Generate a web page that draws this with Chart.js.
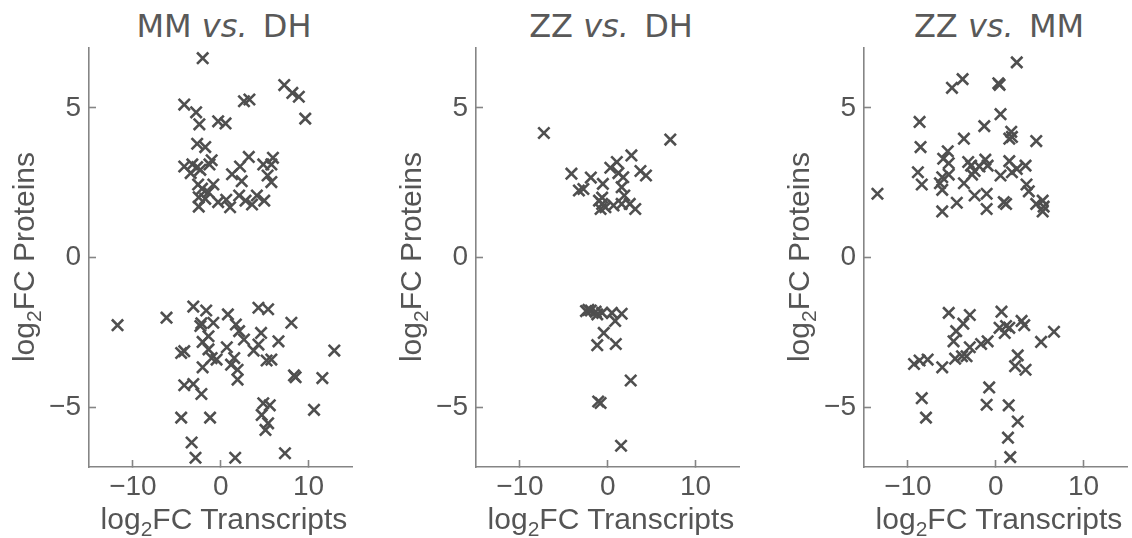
<!DOCTYPE html>
<html lang="en">
<head>
<meta charset="UTF-8">
<title>log2FC Proteins vs Transcripts</title>
<script src="https://cdn.jsdelivr.net/npm/chart.js"></script>
<style>
  body { margin: 0; background: #fff; overflow: hidden; }
  #wrap { position: relative; width: 1132px; height: 538px; overflow: hidden; }
  canvas { position: absolute; top: 0; }
  .title { position: absolute; top: 10px; width: 300px; text-align: center;
           font-family: "DejaVu Sans"; font-size: 32px; line-height: 32px; color: #595959; }
  .title i { margin-right: 5px; }
  .axt { position: absolute; width: 400px; height: 30px; text-align: center; white-space: nowrap;
         font-family: "Liberation Sans"; font-size: 30px; line-height: 30px; color: #555; }
  .axt span { font-size: 21px; position: relative; top: 7px; }
  .rot { transform: rotate(-90deg); }
</style>
</head>
<body>
<div id="wrap">
  <div class="title" style="left:74px">MM <i>vs.</i> DH</div>
  <div class="title" style="left:461px">ZZ <i>vs.</i> DH</div>
  <div class="title" style="left:849px">ZZ <i>vs.</i> MM</div>

  <canvas id="c1" width="363" height="538" style="left:0px"></canvas>
  <canvas id="c2" width="363" height="538" style="left:387px"></canvas>
  <canvas id="c3" width="363" height="538" style="left:775px"></canvas>

  <!-- axis titles (html so the subscript 2 sits like the original) -->
  <div class="axt" style="left:24px;top:504px">log<span>2</span>FC Transcripts</div>
  <div class="axt" style="left:411px;top:504px">log<span>2</span>FC Transcripts</div>
  <div class="axt" style="left:799px;top:504px">log<span>2</span>FC Transcripts</div>
  <div class="axt rot" style="left:-176px;top:242px">log<span>2</span>FC Proteins</div>
  <div class="axt rot" style="left:211px;top:242px">log<span>2</span>FC Proteins</div>
  <div class="axt rot" style="left:599px;top:242px">log<span>2</span>FC Proteins</div>
</div>

<script>
// tick values shared by all three panels
const xTicks = [-10, 0, 10];
const yTicks = [-5, 0, 5];

// MM vs. DH  (x = log2FC transcripts, y = log2FC proteins)
const mmDhX = [-2.05, -4.15, -2.8, -2.43, -0.29, 0.55, 2.65, 3.27, 7.24, 8.16, 8.9, 9.63,
  -2.68, -1.76, -4.15, -3.23, -2.68, -3.42, -2.32, -1.03, -1.28, -2.57, -2.13, -0.84, -1.39,
  -2.5, -1.76, -2.5, -0.29, 0.63, 1.07, 1.29, 2.2, 3.2, 2.39, 2.1, 2.83, 3.57, 4.12, 4.96,
  4.85, 5.95, 5.77, 5.34, 5.77,
  -11.75, -6.17, -3.12, -1.65, -2.32, -0.84, 0.82, 1.73, 4.3, 5.4, 8.05, 4.6, 6.58, 12.94,
  -4.15, -4.5, -2.06, -1.39, -1.03, -0.47, -2.06, 0.7, 1.54, 1.18, 1.92, 1.92, 2.1, 2.65,
  3.75, 4.3, 5.23, 5.77, 8.35, 8.53, 11.58, -4.15, -3.12, -2.2, -4.5, -1.21, 4.85, 5.59,
  4.67, 5.4, 5.1, 10.63, -3.31, -2.87, 1.65, 7.32, -1.39, -2.2];
const mmDhY = [6.66, 5.11, 4.85, 4.45, 4.55, 4.48, 5.22, 5.28, 5.76, 5.5, 5.37, 4.64,
  3.8, 3.69, 3.04, 3.11, 3.02, 2.82, 2.93, 3.25, 3.11, 2.44, 2.3, 2.44, 2.18,
  2.01, 1.96, 1.7, 1.85, 1.93, 1.68, 2.78, 3.04, 3.36, 2.55, 2.07, 1.9, 1.77, 2.07, 1.9,
  3.11, 3.33, 3.11, 2.74, 2.52,
  -2.26, -2.01, -1.64, -1.77, -2.29, -2.18, -1.9, -2.24, -1.68, -1.73, -2.18, -2.52, -2.8, -3.11,
  -3.13, -3.19, -2.82, -3.07, -3.36, -3.41, -3.67, -3.0, -3.36, -3.58, -3.75, -4.08, -2.46, -2.74,
  -3.11, -2.91, -3.44, -3.41, -3.94, -4.0, -4.03, -4.27, -4.23, -4.56, -5.35, -5.35, -4.87, -4.94,
  -5.26, -5.54, -5.76, -5.09, -6.18, -6.69, -6.69, -6.54, -2.63, -2.2];

// ZZ vs. DH
const zzDhX = [-7.27, 7.13, 2.7, 1.04, 0.3, 1.22, 3.73, 4.36, 1.77, -4.13, -1.92, -3.28, -2.77,
  -0.55, 1.59, 1.89, -0.63, -0.63, -0.81, -0.26, 0.66, 1.59, 2.51, 3.14, -0.99,
  -2.47, -1.92, -1.37, -1.19, -0.63, 0.48, 1.59, 0.85, -0.45, -1.19, 0.92, 2.62, -1.08, -0.81,
  1.52, -2.2];
const zzDhY = [4.16, 3.94, 3.41, 3.19, 3.0, 2.82, 2.89, 2.74, 2.68, 2.8, 2.67, 2.24, 2.29,
  2.46, 2.35, 2.07, 2.0, 1.79, 1.62, 1.68, 1.74, 1.79, 1.79, 1.62, 1.9,
  -1.79, -1.77, -1.81, -1.9, -1.85, -1.85, -1.88, -2.12, -2.52, -2.93, -2.89, -4.11, -4.81, -4.86,
  -6.29, -1.75];

// ZZ vs. MM
const zzMmX = [-13.47, -8.67, -8.56, -8.86, -8.42, -4.98, -3.77, 0.3, 0.44, 2.4, 0.55, -1.3,
  -3.62, 1.77, 1.55, 1.85, 4.62, -5.46, -5.98, -5.35, -6.09, -5.35, -6.35, -6.09, -6.09, -4.43,
  -3.13, -2.4, -1.85, -1.18, -0.92, -3.62, -2.69, -2.4, -1.03, -1.03, 0.55, 1.55, 1.85, 2.4,
  3.4, 0.92, 1.18, 3.51, 3.77, 4.62, 5.35, 5.46, 5.35, -2.8,
  -5.35, -2.95, -3.69, -4.5, -4.8, -2.95, -1.66, -0.92, -3.32, -3.84, -4.62, -6.09, -7.75,
  -8.67, -9.3, 0.66, 1.18, 1.03, 1.55, 2.95, 3.25, 5.17, 6.64, 2.51, 2.21, 3.4, -0.74, -1.03,
  1.48, 2.51, 1.4, 1.66, -8.42, -7.94, 0.44];
const zzMmY = [2.13, 4.53, 3.69, 2.85, 2.44, 5.67, 5.96, 5.82, 5.77, 6.52, 4.79, 4.39,
  3.97, 4.2, 3.97, 4.03, 3.89, 3.55, 3.3, 3.15, 2.68, 2.77, 2.48, 2.26, 1.54, 1.83,
  3.19, 2.89, 3.04, 3.27, 3.07, 2.48, 2.77, 2.07, 2.13, 1.62, 2.74, 3.22, 2.85, 2.96,
  3.07, 1.85, 1.79, 2.44, 2.21, 1.79, 1.9, 1.7, 1.54, 3.07,
  -1.85, -1.92, -2.21, -2.46, -2.8, -3.0, -2.89, -2.8, -3.3, -3.3, -3.38, -3.67, -3.41,
  -3.44, -3.56, -1.81, -2.29, -2.52, -2.35, -2.12, -2.26, -2.82, -2.48, -3.27, -3.63, -3.75, -4.34, -4.92,
  -4.94, -5.48, -6.02, -6.67, -4.7, -5.35, -2.35];

const axisGrey = '#858585';
const textGrey = '#555555';
const markGrey = '#4f4f4f';

// matplotlib style minus sign
function fmt(v) {
    return v < 0 ? '\u2212' + Math.abs(v) : String(v);
}

function makeChart(id, xs, ys) {
    let points = xs.map((x, i) => ({ x: x, y: ys[i] }));
    return new Chart(document.getElementById(id), {
        type: 'scatter',
        data: {
            datasets: [{
                data: points,
                pointStyle: 'crossRot',
                pointRadius: 8,
                pointHoverRadius: 8,
                borderColor: markGrey,
                backgroundColor: markGrey,
                borderWidth: 2.6,
                clip: false
            }]
        },
        options: {
            responsive: false,
            animation: false,
            events: [],
            layout: { padding: { top: 48, right: 3, left: 0, bottom: 0 } },
            plugins: { legend: { display: false }, tooltip: { enabled: false } },
            scales: {
                x: {
                    type: 'linear', min: -15, max: 15,
                    afterBuildTicks: s => { s.ticks = xTicks.map(v => ({ value: v })); },
                    afterFit: s => { s.height = 71; },
                    border: { display: true, color: axisGrey, width: 1.6 },
                    grid: { drawOnChartArea: false, drawTicks: true, tickLength: -7, tickColor: axisGrey, tickWidth: 1.6 },
                    ticks: { color: textGrey, font: { family: 'Liberation Sans', size: 28 }, padding: 10, callback: v => fmt(v) }
                },
                y: {
                    type: 'linear', min: -7, max: 7,
                    afterBuildTicks: s => { s.ticks = yTicks.map(v => ({ value: v })); },
                    afterFit: s => { s.width = 89; },
                    border: { display: true, color: axisGrey, width: 1.6 },
                    grid: { drawOnChartArea: false, drawTicks: true, tickLength: -7, tickColor: axisGrey, tickWidth: 1.6 },
                    ticks: { color: textGrey, font: { family: 'Liberation Sans', size: 28 }, padding: 15, callback: v => fmt(v) }
                }
            }
        }
    });
}

makeChart('c1', mmDhX, mmDhY);
makeChart('c2', zzDhX, zzDhY);
makeChart('c3', zzMmX, zzMmY);
</script>
</body>
</html>
